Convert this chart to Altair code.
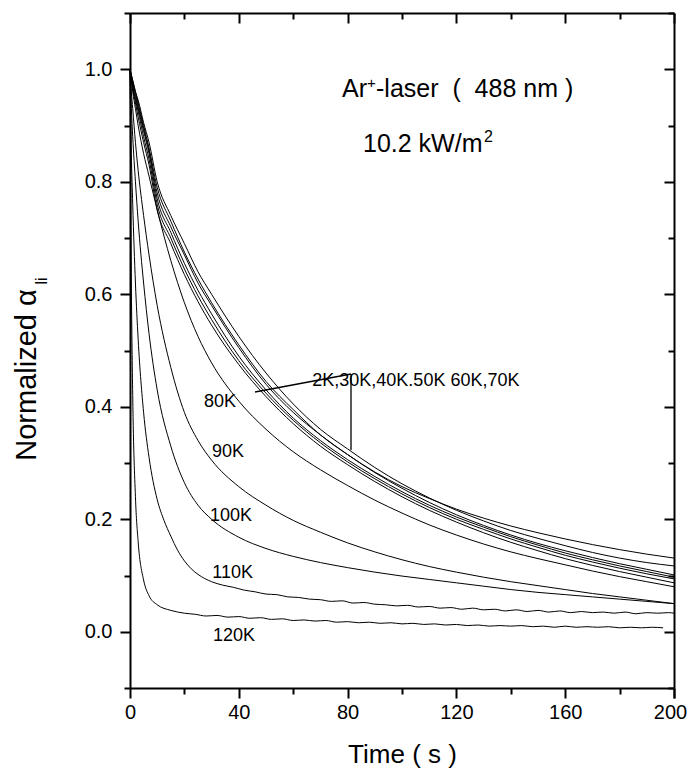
import altair as alt
import pandas as pd

# ---------------- data ----------------
time_s = [0, 0.5, 1, 2, 3, 5, 7, 10, 15, 20, 25, 30, 40, 50, 60, 70, 80, 90,
          100, 110, 120, 130, 140, 150, 160, 170, 180, 190, 200]

c_2K = [1.0, 0.99, 0.98, 0.96, 0.94, 0.90, 0.86, 0.79, 0.73, 0.675, 0.627, 0.585, 0.51, 0.445, 0.395,
        0.35, 0.315, 0.284, 0.258, 0.237, 0.218, 0.202, 0.188, 0.176, 0.165, 0.155, 0.146, 0.138, 0.131]
c_30K = [1.0, 0.99, 0.98, 0.96, 0.945, 0.905, 0.87, 0.80, 0.74, 0.69, 0.64, 0.60, 0.525, 0.46, 0.405,
         0.36, 0.325, 0.292, 0.263, 0.238, 0.216, 0.197, 0.18, 0.166, 0.153, 0.141, 0.131, 0.123, 0.117]
c_40K = [1.0, 0.985, 0.975, 0.955, 0.935, 0.895, 0.855, 0.78, 0.72, 0.67, 0.62, 0.58, 0.505, 0.44, 0.39,
         0.35, 0.315, 0.283, 0.255, 0.23, 0.208, 0.189, 0.172, 0.157, 0.144, 0.132, 0.121, 0.111, 0.101]
c_50K = [1.0, 0.985, 0.97, 0.95, 0.93, 0.89, 0.85, 0.77, 0.71, 0.655, 0.607, 0.565, 0.49, 0.43, 0.38,
         0.34, 0.306, 0.276, 0.249, 0.225, 0.204, 0.186, 0.169, 0.154, 0.14, 0.128, 0.117, 0.107, 0.097]
c_60K = [1.0, 0.985, 0.97, 0.945, 0.925, 0.88, 0.84, 0.76, 0.70, 0.645, 0.597, 0.555, 0.482, 0.424, 0.376,
         0.336, 0.302, 0.272, 0.245, 0.221, 0.2, 0.182, 0.165, 0.15, 0.136, 0.124, 0.113, 0.103, 0.094]
c_70K = [1.0, 0.98, 0.965, 0.94, 0.915, 0.87, 0.83, 0.75, 0.69, 0.635, 0.587, 0.545, 0.475, 0.418, 0.37,
         0.33, 0.297, 0.267, 0.24, 0.216, 0.195, 0.176, 0.159, 0.144, 0.13, 0.118, 0.107, 0.097, 0.087]
c_80K = [1.0, 0.98, 0.96, 0.93, 0.90, 0.85, 0.81, 0.75, 0.66, 0.585, 0.525, 0.478, 0.41, 0.36, 0.32,
         0.288, 0.26, 0.234, 0.211, 0.19, 0.172, 0.156, 0.142, 0.130, 0.119, 0.108, 0.098, 0.089, 0.080]
c_90K = [1.0, 0.96, 0.93, 0.87, 0.82, 0.74, 0.67, 0.58, 0.47, 0.39, 0.34, 0.305, 0.258, 0.225, 0.198,
         0.177, 0.158, 0.142, 0.128, 0.116, 0.106, 0.097, 0.089, 0.082, 0.075, 0.068, 0.062, 0.056, 0.050]
c_100K = [1.0, 0.93, 0.88, 0.80, 0.73, 0.62, 0.53, 0.43, 0.33, 0.265, 0.225, 0.20, 0.168, 0.148, 0.134,
          0.123, 0.114, 0.106, 0.099, 0.093, 0.087, 0.081, 0.075, 0.070, 0.066, 0.062, 0.058, 0.054, 0.050]

# noisy low-signal traces, sampled more densely
time_110K = [0, 0.5, 1, 2, 3, 5, 7, 10, 12.5, 15, 17.5, 20, 22.5, 25, 30, 34, 38, 42, 46, 50, 54, 58, 62,
             66, 70, 74, 78, 82, 86, 90, 94, 98, 102, 106, 110, 114, 118, 122, 126, 130, 134, 138, 142,
             146, 150, 154, 158, 162, 166, 170, 174, 178, 182, 186, 190, 194, 198, 200]
c_110K = [1.0, 0.85, 0.76, 0.62, 0.52, 0.39, 0.31, 0.235, 0.198, 0.17, 0.145, 0.126, 0.112, 0.102, 0.089,
          0.083, 0.079, 0.074, 0.071, 0.067, 0.066, 0.062, 0.061, 0.058, 0.057, 0.054, 0.055, 0.051,
          0.052, 0.049, 0.048, 0.046, 0.047, 0.044, 0.045, 0.042, 0.043, 0.040, 0.042, 0.039, 0.040,
          0.037, 0.039, 0.036, 0.038, 0.035, 0.037, 0.034, 0.036, 0.034, 0.035, 0.033, 0.035, 0.032,
          0.034, 0.033, 0.034, 0.033]
time_120K = [0, 0.5, 1, 2, 3, 5, 7, 10, 15, 20, 24, 28, 32, 36, 40, 44, 48, 52, 56, 60, 64, 68, 72, 76,
             80, 84, 88, 92, 96, 100, 104, 108, 112, 116, 120, 124, 128, 132, 136, 140, 144, 148, 152,
             156, 160, 164, 168, 172, 176, 180, 184, 188, 192, 196]
c_120K = [1.0, 0.62, 0.42, 0.24, 0.16, 0.092, 0.064, 0.048, 0.038, 0.033, 0.031, 0.028, 0.029, 0.026,
          0.027, 0.024, 0.025, 0.022, 0.023, 0.020, 0.021, 0.019, 0.020, 0.017, 0.018, 0.016, 0.017,
          0.015, 0.016, 0.014, 0.015, 0.013, 0.014, 0.012, 0.013, 0.011, 0.012, 0.010, 0.011, 0.010,
          0.011, 0.009, 0.010, 0.008, 0.010, 0.008, 0.009, 0.008, 0.009, 0.007, 0.008, 0.007, 0.008, 0.007]

series_names = ["2K", "30K", "40K", "50K", "60K", "70K", "80K", "90K", "100K", "110K", "120K"]
series_times = [time_s] * 9 + [time_110K, time_120K]
series_values = [c_2K, c_30K, c_40K, c_50K, c_60K, c_70K, c_80K, c_90K, c_100K, c_110K, c_120K]

label_text = ["80K", "90K", "100K", "110K", "120K", "2K,30K,40K.50K 60K,70K"]
label_t = [33.1, 36.0, 37.1, 37.7, 38.2, 105.1]
label_v = [0.4076, 0.3204, 0.2049, 0.1036, -0.0076, 0.446]

pointer_t = [45.96, 81.25]
pointer_v = [0.4262, 0.4582]
pointer_t2 = [81.25, 81.25]
pointer_v2 = [0.4582, 0.3231]

x_major = [0, 40, 80, 120, 160, 200]
x_minor = [20, 60, 100, 140, 180]
y_major = [0.0, 0.2, 0.4, 0.6, 0.8, 1.0]
y_minor = [-0.1, 0.1, 0.3, 0.5, 0.7, 0.9, 1.1]

# ---------------- tables ----------------
rows = []
for name, ts, vals in zip(series_names, series_times, series_values):
    for t, v in zip(ts, vals):
        rows.append({"series": name, "time": t, "value": v})
df = pd.DataFrame(rows)
labels_df = pd.DataFrame({"label": label_text, "t": label_t, "v": label_v})
pointer_df = pd.DataFrame({"t": pointer_t, "v": pointer_v, "t2": pointer_t2, "v2": pointer_v2})
dummy = pd.DataFrame({"t": [0.0], "v": [0.0]})

FONT = "Liberation Sans"
xs = alt.Scale(domain=[0, 200], nice=False, zero=False)
ys = alt.Scale(domain=[-0.1, 1.1], nice=False, zero=False)


def tick_axis(orient, values, size, offset=0, **kw):
    return alt.Axis(orient=orient, values=values, tickSize=size, offset=offset,
                    labels=False, domain=False, grid=False, title=None,
                    tickColor="black", tickWidth=2, **kw)


lines = alt.Chart(df).mark_line(color="black", strokeWidth=1, interpolate="monotone").encode(
    x=alt.X("time:Q", scale=xs, axis=alt.Axis(
        orient="bottom", values=x_major, tickSize=10, domain=True, domainColor="black",
        domainWidth=2, grid=False, tickColor="black", tickWidth=2, labelFont=FONT,
        labelFontSize=20, labelColor="black", labelPadding=4, labelFlush=False,
        labelExpr="datum.value == 200 ? '' : datum.label",
        title="Time ( s )", titleFont=FONT, titleFontSize=26, titleFontWeight="normal",
        titleColor="black", titlePadding=19)),
    y=alt.Y("value:Q", scale=ys, axis=alt.Axis(
        orient="left", values=y_major, format=".1f", tickSize=10, domain=True,
        domainColor="black", domainWidth=2, grid=False, tickColor="black", tickWidth=2,
        labelFont=FONT, labelFontSize=20, labelColor="black", labelPadding=8, title=None)),
    detail="series:N",
)

# last x label nudged inward so it stays on the page
last_label = alt.Chart(dummy).mark_point(opacity=0).encode(
    x=alt.X("t:Q", scale=xs, axis=alt.Axis(
        orient="bottom", values=[200], tickSize=10, domain=False, grid=False,
        tickColor="black", tickWidth=2, labelFont=FONT, labelFontSize=20, labelColor="black",
        labelPadding=4, labelFlush=False, labelOffset=-4, title=None)),
    y=alt.Y("v:Q", scale=ys, axis=None),
)

minor_bl = alt.Chart(dummy).mark_point(opacity=0).encode(
    x=alt.X("t:Q", scale=xs, axis=tick_axis("bottom", x_minor, 6)),
    y=alt.Y("v:Q", scale=ys, axis=tick_axis("left", y_minor, 6)),
)
major_tr = alt.Chart(dummy).mark_point(opacity=0).encode(
    x=alt.X("t:Q", scale=xs, axis=tick_axis("top", x_major, 10, -10)),
    y=alt.Y("v:Q", scale=ys, axis=tick_axis("right", y_major, 10, -10)),
)
minor_tr = alt.Chart(dummy).mark_point(opacity=0).encode(
    x=alt.X("t:Q", scale=xs, axis=tick_axis("top", x_minor, 6, -6)),
    y=alt.Y("v:Q", scale=ys, axis=tick_axis("right", y_minor, 6, -6)),
)
frame_tr = alt.Chart(dummy).mark_point(opacity=0).encode(
    x=alt.X("t:Q", scale=xs, axis=alt.Axis(orient="top", values=[], ticks=False, labels=False,
                                           grid=False, title=None, domain=True,
                                           domainColor="black", domainWidth=2)),
    y=alt.Y("v:Q", scale=ys, axis=alt.Axis(orient="right", values=[], ticks=False, labels=False,
                                           grid=False, title=None, domain=True,
                                           domainColor="black", domainWidth=2)),
)

labels = alt.Chart(labels_df).mark_text(font=FONT, fontSize=18, color="black",
                                        align="center", baseline="middle").encode(
    x=alt.X("t:Q", scale=xs, axis=None),
    y=alt.Y("v:Q", scale=ys, axis=None),
    text="label:N",
)

pointer = alt.Chart(pointer_df).mark_rule(color="black", strokeWidth=1.3).encode(
    x=alt.X("t:Q", scale=xs, axis=None), y=alt.Y("v:Q", scale=ys, axis=None),
    x2="t2:Q", y2="v2:Q",
)

ann1 = pd.DataFrame({"t": [77.94], "v": [0.9507]})
ann2 = pd.DataFrame({"t": [85.66], "v": [0.8529]})


def ann_text(data, txt, size, dx=0, dy=0):
    return alt.Chart(data).mark_text(font=FONT, fontSize=size, color="black", align="left",
                                     baseline="alphabetic", dx=dx, dy=dy, text=txt).encode(
        x=alt.X("t:Q", scale=xs, axis=None), y=alt.Y("v:Q", scale=ys, axis=None))


a_ar = ann_text(ann1, "Ar", 25)
a_plus = ann_text(ann1, "+", 15, dx=25, dy=-9)
a_rest = ann_text(ann1, "-laser\u00a0\u00a0(\u00a0\u00a0488 nm )", 25, dx=34)
a_pow = ann_text(ann2, "10.2 kW/m", 25)
a_sq = ann_text(ann2, "2", 16, dx=121, dy=-10)

ytitle_df = pd.DataFrame({"s": ["Normalized α"]})
ysub_df = pd.DataFrame({"s": ["li"]})
ytitle = alt.Chart(ytitle_df).mark_text(font=FONT, fontSize=29, color="black", angle=270,
                                        align="center", baseline="middle").encode(
    x=alt.value(-103), y=alt.value(362), text="s:N")
ysub = alt.Chart(ysub_df).mark_text(font=FONT, fontSize=16, color="black", angle=270,
                                    align="center", baseline="middle").encode(
    x=alt.value(-88), y=alt.value(268), text="s:N")

chart = alt.layer(
    lines, last_label, minor_bl, major_tr, minor_tr, frame_tr, labels, pointer,
    a_ar, a_plus, a_rest, a_pow, a_sq, ytitle, ysub,
).resolve_axis(x="independent", y="independent").properties(
    width=544, height=675,
    autosize=alt.AutoSizeParams(type="none"),
    padding={"left": 122, "top": 5, "right": 13, "bottom": 88},
).configure_view(stroke=None).configure(background="white")

chart.save("out.html", embed_options={"renderer": "svg", "actions": False})
